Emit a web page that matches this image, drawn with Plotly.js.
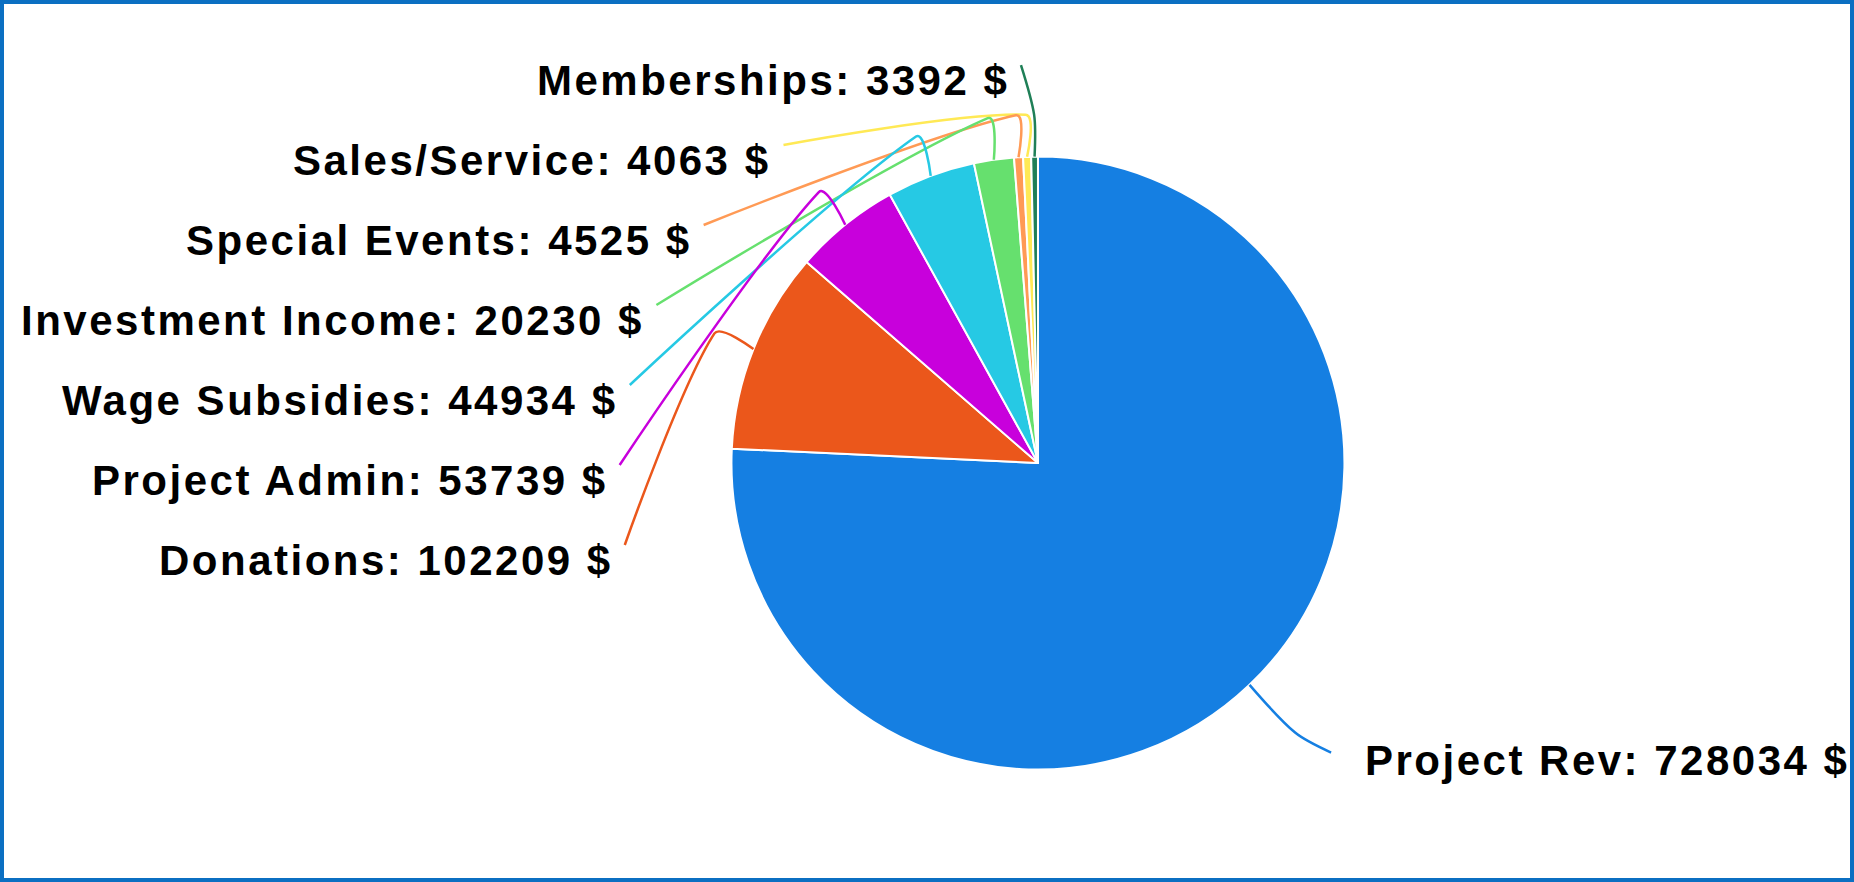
<!DOCTYPE html>
<html>
<head>
<meta charset="utf-8">
<script src="https://cdn.plot.ly/plotly-3.0.1.min.js"></script>
<style>
  html, body { margin: 0; padding: 0; background: #ffffff; }
  #wrap { position: relative; width: 1854px; height: 882px; overflow: hidden; }
  #chart { position: absolute; left: 0; top: 0; width: 1854px; height: 882px; }
  #frame { position: absolute; left: 0; top: 0; width: 1854px; height: 882px; box-sizing: border-box;
           border: 4px solid #0b6fc2; pointer-events: none; }
  text.annotation-text { letter-spacing: 2.5px; }
</style>
</head>
<body>
<div id="wrap">
  <div id="chart"></div>
  <div id="frame"></div>
</div>
<script>
// ---- data ----
const categories = ["Project Rev", "Donations", "Project Admin", "Wage Subsidies",
                    "Investment Income", "Special Events", "Sales/Service", "Memberships"];
const amounts = [728034, 102209, 53739, 44934, 20230, 4525, 4063, 3392];
const currencySuffix = " $";
const sliceColors = ["#157fe2", "#eb571b", "#c800dc", "#26c9e4", "#66e06e", "#ff9a55", "#ffe955", "#1f7f57"];

// ---- layout constants (styling / placement) ----
const W = 1854, H = 882;
const pieDomX = [0.3943, 0.7254];
const pieDomY = [0.1275, 0.8225];
const labelFont = { family: "Liberation Sans, Arial, Helvetica, sans-serif", size: 42, color: "#000000", weight: "bold" };

const cx = W * (pieDomX[0] + pieDomX[1]) / 2;
const cy = H * (1 - (pieDomY[0] + pieDomY[1]) / 2);
const r = Math.min(W * (pieDomX[1] - pieDomX[0]), H * (pieDomY[1] - pieDomY[0])) / 2;

const elbowLen = 42;       // radial first segment of leader line (left side)
const rightElbowLen = 66;  // radial first segment (right side)
const labelRadA = r + 95;  // horizontal semi-axis of label ellipse
const ellipseShift = 30;   // label ellipse centre below pie centre
const len2 = 27;           // second segment length
const topRow = 80, rowGap = 80;
const lineGap = 10, lineRaise = 15;
const smoothness = 0.3;
const lineWidth = 2.5;

// ---- slice mid-angles (clockwise from 12 o'clock) ----
const total = amounts.reduce((a, b) => a + b, 0);
let acc = 0;
const mids = amounts.map(v => { const m = 360 * (acc + v / 2) / total; acc += v; return m; });

function polar(rad, deg) {
  const t = deg * Math.PI / 180;
  return [cx + rad * Math.sin(t), cy - rad * Math.cos(t)];
}
function P(p) { return (p[0] / W).toFixed(5) + "," + (1 - p[1] / H).toFixed(5); }
// smooth 3-point guide line (bezier smoothing through the elbow)
function smoothPath(p0, p1, p2, s) {
  const d0 = Math.hypot(p1[0] - p0[0], p1[1] - p0[1]);
  const d1 = Math.hypot(p2[0] - p1[0], p2[1] - p1[1]);
  const sum = d0 + d1;
  const v = [(p2[0] - p0[0]) * s, (p2[1] - p0[1]) * s];
  const cpA = [p1[0] - v[0] * d0 / sum, p1[1] - v[1] * d0 / sum];
  const cpB = [p1[0] + v[0] * d1 / sum, p1[1] + v[1] * d1 / sum];
  return "M " + P(p0) + " C " + P(p0) + " " + P(cpA) + " " + P(p1) +
         " C " + P(cpB) + " " + P(p2) + " " + P(p2);
}

const annotations = [];
const shapes = [];

// left-side labels: stacked rows, nearest to 12 o'clock on top, x on an ellipse
const leftIdx = categories.map((c, i) => i).filter(i => mids[i] > 180).sort((a, b) => mids[b] - mids[a]);
const rowYs = leftIdx.map((i, k) => topRow + k * rowGap);
const ecy = cy + ellipseShift;
const rB = Math.max(...rowYs.map(y => Math.abs(y - ecy)));

leftIdx.forEach((i, k) => {
  const y = rowYs[k];
  const dy = y - ecy;
  const off = labelRadA * Math.sqrt(Math.max(0, 1 - dy * dy / (rB * rB))) + len2;
  const xr = cx - off;
  annotations.push({
    xref: "paper", yref: "paper", x: xr / W, y: 1 - y / H,
    xanchor: "right", yanchor: "middle", showarrow: false,
    text: categories[i] + ": " + amounts[i] + currencySuffix, font: labelFont
  });
  const p0 = polar(r, mids[i]);
  const p1 = polar(r + elbowLen, mids[i]);
  const p2 = [xr + lineGap, y - lineRaise];
  shapes.push({ type: "path", xref: "paper", yref: "paper", path: smoothPath(p0, p1, p2, smoothness),
                line: { color: sliceColors[i], width: lineWidth }, layer: "above" });
});

// right-side labels
categories.forEach((c, i) => {
  if (mids[i] > 180) return;
  const p0 = polar(r, mids[i]);
  const p1 = polar(r + rightElbowLen, mids[i]);
  const p2 = [p1[0] + 36, p1[1] + 20];
  annotations.push({
    xref: "paper", yref: "paper", x: (p2[0] + 32) / W, y: 1 - (p2[1] + 8) / H,
    xanchor: "left", yanchor: "middle", showarrow: false,
    text: c + ": " + amounts[i] + currencySuffix, font: labelFont
  });
  shapes.push({ type: "path", xref: "paper", yref: "paper", path: smoothPath(p0, p1, p2, smoothness),
                line: { color: sliceColors[i], width: lineWidth }, layer: "above" });
});

const trace = {
  type: "pie",
  labels: categories,
  values: amounts,
  sort: false,
  direction: "clockwise",
  rotation: 0,
  marker: { colors: sliceColors, line: { color: "#ffffff", width: 2 } },
  textinfo: "none",
  hoverinfo: "label+value",
  domain: { x: pieDomX, y: pieDomY },
  showlegend: false
};

const layout = {
  width: W,
  height: H,
  margin: { l: 0, r: 0, t: 0, b: 0 },
  paper_bgcolor: "#ffffff",
  showlegend: false,
  annotations: annotations,
  shapes: shapes
};

Plotly.newPlot("chart", [trace], layout, { displayModeBar: false, staticPlot: true });
</script>
</body>
</html>
